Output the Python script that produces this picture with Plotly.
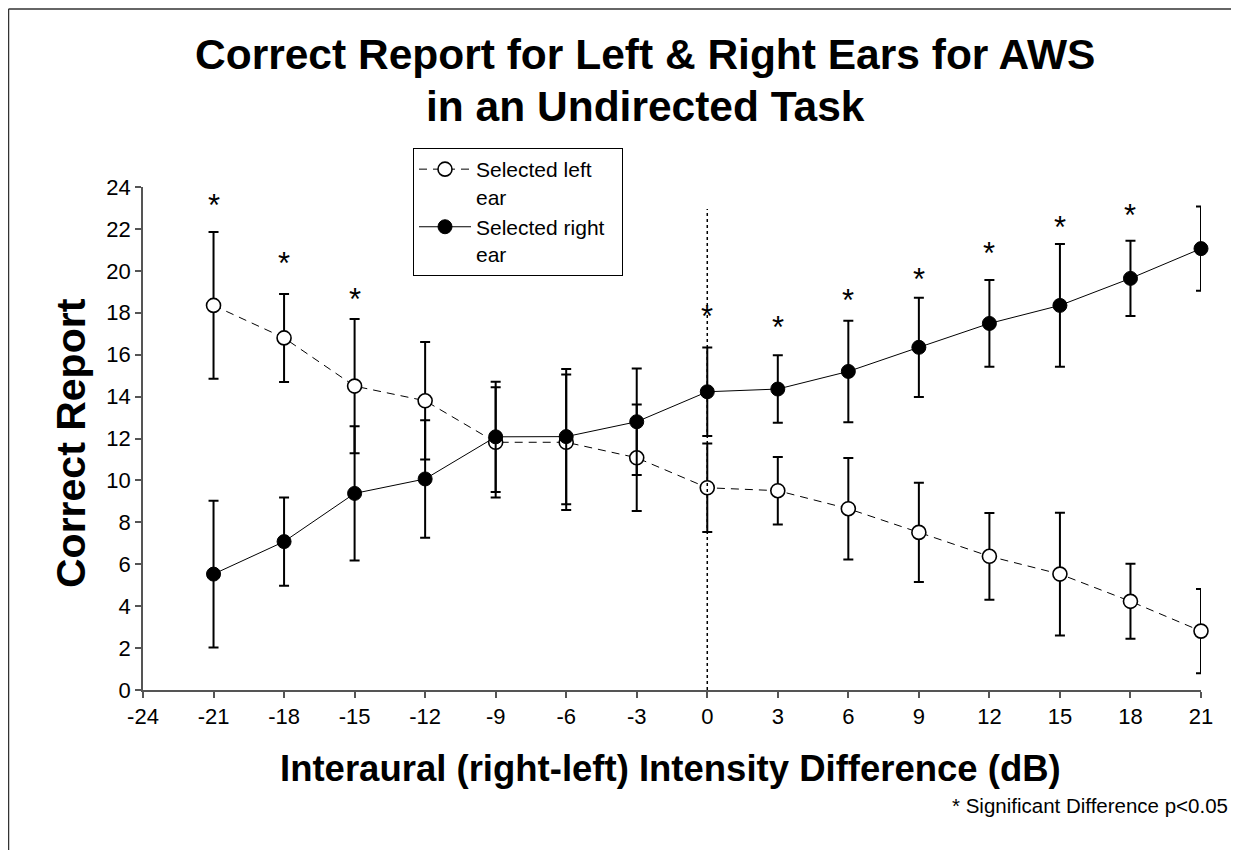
import plotly.graph_objects as go

# ---------------- data ----------------
intensity_diff = [-21, -18, -15, -12, -9, -6, -3, 0, 3, 6, 9, 12, 15, 18, 21]
left_ear_mean = [18.35, 16.8, 14.5, 13.8, 11.82, 11.82, 11.08, 9.65, 9.51, 8.65, 7.52, 6.38, 5.53, 4.23, 2.81]
right_ear_mean = [5.53, 7.08, 9.38, 10.07, 12.08, 12.09, 12.8, 14.23, 14.36, 15.2, 16.35, 17.49, 18.35, 19.64, 21.06]
error_sd = [3.5, 2.1, 3.2, 2.8, 2.63, 3.23, 2.54, 2.11, 1.61, 2.42, 2.37, 2.07, 2.93, 1.79, 2.01]
sig_x = [-21, -18, -15, 0, 3, 6, 9, 12, 15, 18, 21]
sig_label_y = [23.3, 20.56, 18.8, 18.0, 17.5, 18.76, 19.8, 21.0, 22.28, 22.82, 24.78]
x_ticks = list(range(-24, 22, 3))
y_ticks = list(range(0, 25, 2))

FONT = "Liberation Sans, Arial, sans-serif"

# screen position of the plot origin (x=-24, y=0) and plot size, in page pixels
PX0, PY0 = 143, 690
PW, PH = 1058, 503
BODY = 8  # browser body margin around the figure


def px(sx):
    return (sx - PX0) / PW


def py(sy):
    return (PY0 - sy) / PH


fig = go.Figure()

fig.add_trace(go.Scatter(
    x=intensity_diff, y=left_ear_mean, name="Selected left<br>ear",
    mode="lines+markers",
    line=dict(color="black", width=1, dash="8px,6px"),
    marker=dict(symbol="circle", size=14, color="white", line=dict(color="black", width=1.6)),
    error_y=dict(type="data", array=error_sd, visible=True, color="black", thickness=2, width=5),
    cliponaxis=False,
))
fig.add_trace(go.Scatter(
    x=intensity_diff, y=right_ear_mean, name="Selected right&nbsp;&nbsp;<br>ear",
    mode="lines+markers",
    line=dict(color="black", width=1),
    marker=dict(symbol="circle", size=14, color="black", line=dict(color="black", width=1)),
    error_y=dict(type="data", array=error_sd, visible=True, color="black", thickness=2, width=5),
    cliponaxis=False,
))

# vertical dotted reference line at 0 dB
fig.add_shape(type="line", xref="x", yref="y", x0=0, x1=0, y0=0, y1=22.95,
              line=dict(color="black", width=1.5, dash="dot"))

# significance asterisks
for sx, sy in zip(sig_x, sig_label_y):
    fig.add_annotation(x=sx, y=sy, xref="x", yref="y", text="*", showarrow=False,
                       font=dict(family=FONT, size=31, color="black"), yshift=-4)

# outer frame: only the left and top edges are visible in the picture
fig.add_shape(type="line", xref="paper", yref="paper",
              x0=px(8.5), x1=px(8.5), y0=py(870), y1=py(9),
              line=dict(color="#333333", width=1.5))
fig.add_shape(type="line", xref="paper", yref="paper",
              x0=px(8.5), x1=px(1260), y0=py(9), y1=py(9),
              line=dict(color="#333333", width=1.5))

# title (two lines)
fig.add_annotation(x=px(645), y=py(54), xref="paper", yref="paper",
                   text="<b>Correct Report for Left & Right Ears for AWS</b>", showarrow=False,
                   xanchor="center", yanchor="middle",
                   font=dict(family=FONT, size=42.5, color="black"))
fig.add_annotation(x=px(645), y=py(106), xref="paper", yref="paper",
                   text="<b>in an Undirected Task</b>", showarrow=False,
                   xanchor="center", yanchor="middle",
                   font=dict(family=FONT, size=42.5, color="black"))

# axis titles and footnote
fig.add_annotation(x=px(670), y=py(768), xref="paper", yref="paper",
                   text="<b>Interaural (right-left) Intensity Difference (dB)</b>", showarrow=False,
                   xanchor="center", yanchor="middle",
                   font=dict(family=FONT, size=36.5, color="black"))
fig.add_annotation(x=px(71), y=py(443), xref="paper", yref="paper",
                   text="<b>Correct Report</b>", showarrow=False, textangle=-90,
                   xanchor="center", yanchor="middle",
                   font=dict(family=FONT, size=41, color="black"))
fig.add_annotation(x=px(1230), y=py(805), xref="paper", yref="paper",
                   text="* Significant Difference p<0.05", showarrow=False,
                   xanchor="right", yanchor="middle",
                   font=dict(family=FONT, size=20.5, color="black"))

W, H = 1239 - 2 * BODY, 858 - 2 * BODY
fig.update_layout(
    width=W, height=H, autosize=False,
    margin=dict(l=PX0 - BODY, r=W - (PX0 - BODY + PW), t=(PY0 - PH) - BODY, b=H - (PY0 - BODY)),
    paper_bgcolor="white", plot_bgcolor="white",
    font=dict(family=FONT, color="black"),
    showlegend=True,
    legend=dict(x=px(413), y=py(148), xanchor="left", yanchor="top",
                bgcolor="white", bordercolor="black", borderwidth=1,
                font=dict(family=FONT, size=21, color="black"),
                itemwidth=52, tracegroupgap=8, valign="top"),
    xaxis=dict(range=[-24, 21], tickvals=x_ticks, ticktext=[str(v) for v in x_ticks],
               showgrid=False, zeroline=False, showline=True, linecolor="#555555", linewidth=1.5,
               ticks="outside", ticklen=6, tickcolor="#555555", tickwidth=1.5,
               tickfont=dict(family=FONT, size=22, color="black")),
    yaxis=dict(range=[0, 24], tickvals=y_ticks, ticktext=[str(v) for v in y_ticks],
               showgrid=False, zeroline=False, showline=True, linecolor="#555555", linewidth=1.5,
               ticks="outside", ticklen=6, tickcolor="#555555", tickwidth=1.5,
               tickfont=dict(family=FONT, size=22, color="black")),
)

fig.write_html("out.html", config={"displayModeBar": False})
